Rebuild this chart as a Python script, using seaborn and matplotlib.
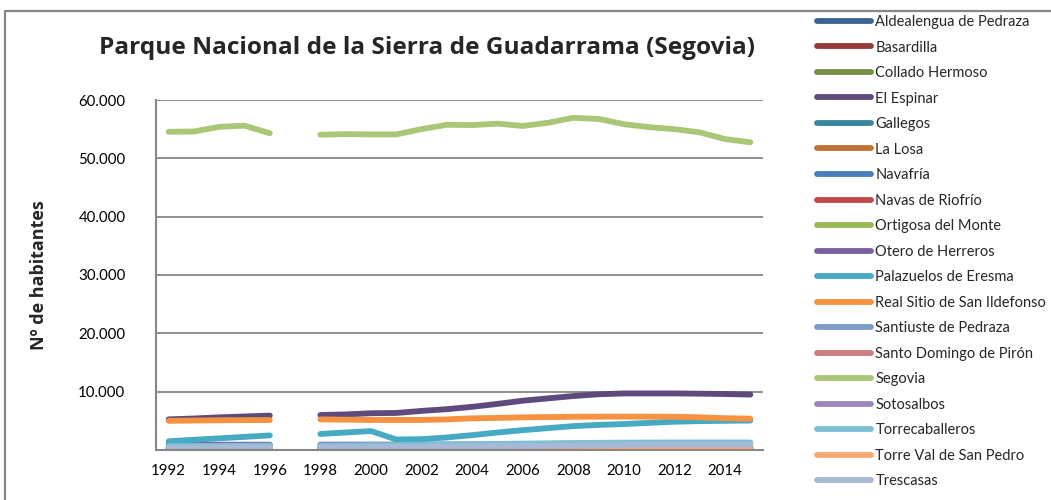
import numpy as np
import pandas as pd
import seaborn as sns
import matplotlib.pyplot as plt
from matplotlib.lines import Line2D

# Years on the category axis (1997 has no data)
years = list(range(1992, 2016))

# Population per municipality, 1992..2015 (None = 1997 missing)
aldealengua = [110, 108, 106, 104, 102, None, 99, 97, 96, 95, 94, 93, 92, 92, 93, 94, 95, 96, 95, 94, 93, 92, 90, 89]
basardilla = [140, 140, 138, 137, 135, None, 133, 132, 130, 131, 135, 140, 145, 150, 155, 160, 162, 165, 168, 170, 168, 165, 160, 158]
collado = [130, 128, 126, 125, 124, None, 122, 120, 120, 125, 130, 135, 140, 145, 150, 155, 158, 160, 160, 158, 156, 154, 150, 148]
el_espinar = [5250, 5400, 5600, 5750, 5900, None, 6000, 6100, 6300, 6350, 6700, 7000, 7400, 7900, 8450, 8850, 9250, 9550, 9700, 9700, 9700, 9650, 9600, 9500]
gallegos = [110, 108, 105, 103, 100, None, 98, 96, 95, 94, 92, 90, 90, 92, 95, 96, 98, 100, 102, 100, 98, 96, 94, 92]
la_losa = [380, 385, 390, 395, 400, None, 410, 415, 420, 430, 440, 455, 470, 485, 500, 510, 520, 525, 530, 530, 525, 520, 515, 510]
navafria = [350, 348, 345, 342, 340, None, 335, 332, 330, 330, 332, 335, 338, 340, 345, 350, 352, 355, 355, 352, 350, 345, 340, 335]
navas_riofrio = [220, 230, 240, 250, 260, None, 270, 280, 290, 300, 310, 325, 340, 355, 370, 385, 395, 405, 410, 410, 405, 400, 395, 390]
ortigosa = [350, 360, 370, 380, 390, None, 400, 410, 420, 430, 440, 450, 460, 480, 500, 520, 540, 555, 560, 560, 555, 550, 545, 540]
otero = [880, 890, 900, 905, 910, None, 915, 920, 925, 930, 935, 940, 945, 950, 955, 960, 965, 965, 960, 955, 950, 945, 940, 935]
palazuelos = [1500, 1750, 2000, 2250, 2500, None, 2750, 3000, 3250, 1800, 1850, 2150, 2550, 3000, 3400, 3750, 4100, 4300, 4450, 4650, 4850, 4950, 5000, 5050]
real_sitio = [5000, 5050, 5100, 5120, 5140, None, 5250, 5200, 5150, 5150, 5150, 5250, 5430, 5500, 5600, 5650, 5700, 5720, 5720, 5720, 5700, 5600, 5450, 5370]
santiuste = [90, 90, 88, 87, 86, None, 85, 84, 83, 82, 82, 81, 80, 80, 80, 80, 80, 80, 80, 80, 80, 79, 78, 78]
santo_domingo = [70, 70, 68, 66, 65, None, 64, 63, 62, 62, 62, 62, 62, 63, 64, 65, 66, 66, 66, 65, 64, 63, 62, 61]
segovia = [54550, 54600, 55400, 55600, 54300, None, 54050, 54150, 54100, 54100, 55000, 55750, 55700, 55950, 55550, 56100, 56950, 56750, 55850, 55350, 55000, 54450, 53300, 52750]
sotosalbos = [110, 110, 112, 114, 115, None, 118, 120, 122, 125, 128, 130, 133, 136, 140, 143, 146, 150, 152, 153, 152, 150, 148, 146]
torrecaballeros = [650, 680, 700, 720, 750, None, 780, 800, 830, 860, 900, 950, 1000, 1050, 1100, 1150, 1200, 1230, 1260, 1280, 1290, 1300, 1300, 1290]
torre_val = [150, 150, 148, 147, 145, None, 143, 142, 140, 145, 150, 160, 170, 180, 195, 210, 225, 240, 250, 260, 265, 270, 270, 268]
trescasas = [400, 410, 420, 430, 440, None, 460, 480, 500, 520, 550, 580, 620, 660, 700, 740, 780, 820, 860, 880, 900, 910, 910, 900]

names = ["Aldealengua de Pedraza", "Basardilla", "Collado Hermoso", "El Espinar",
         "Gallegos", "La Losa", "Navafría", "Navas de Riofrío", "Ortigosa del Monte",
         "Otero de Herreros", "Palazuelos de Eresma", "Real Sitio de San Ildefonso",
         "Santiuste de Pedraza", "Santo Domingo de Pirón", "Segovia", "Sotosalbos",
         "Torrecaballeros", "Torre Val de San Pedro", "Trescasas"]
series = [aldealengua, basardilla, collado, el_espinar, gallegos, la_losa, navafria,
          navas_riofrio, ortigosa, otero, palazuelos, real_sitio, santiuste,
          santo_domingo, segovia, sotosalbos, torrecaballeros, torre_val, trescasas]
colors = ["#3C6494", "#943C3A", "#768F44", "#5F4A7D", "#37869B", "#BF7334",
          "#4A7EBB", "#BE4B48", "#98B954", "#7D60A0", "#46AAC5", "#F69240",
          "#7D9BC9", "#CD7F7D", "#AAC778", "#9C88B8", "#7BC0D6", "#F9A970", "#A8B9D5"]

df = pd.DataFrame({"Año": years, **dict(zip(names, series))})
long = df.melt(id_vars="Año", var_name="Municipio", value_name="Habitantes")
long = long.dropna()
long["Habitantes"] = long["Habitantes"].astype(float)
# split at the missing year so the line breaks there
long["tramo"] = np.where(long["Año"] < 1997, 0, 1)

sns.set_style("white")
plt.rcParams["font.family"] = ["Lato", "DejaVu Sans"]
bold_font = ["Open Sans", "DejaVu Sans"]

fig = plt.figure(figsize=(10.51, 5), dpi=100)
ax = fig.add_axes([156 / 1051, 50 / 500, 607 / 1051, 350 / 500])

sns.lineplot(data=long, x="Año", y="Habitantes", hue="Municipio", units="tramo",
             estimator=None, hue_order=names, palette=dict(zip(names, colors)),
             lw=4.2, solid_capstyle="round", legend=False, ax=ax)

gray = "#878787"
ax.set_xlim(1991.5, 2015.5)
ax.set_ylim(0, 60000)
ax.set_xticks(range(1992, 2015, 2))
ax.set_yticks(range(10000, 60001, 10000))
ax.set_yticklabels([f"{v:,}".replace(",", ".") for v in range(10000, 60001, 10000)])
ax.tick_params(length=0, labelsize=10.8, labelcolor="black")
ax.tick_params(axis="y", pad=22)
ax.tick_params(axis="x", pad=10)
ax.grid(axis="y", color=gray, lw=1.3)
ax.set_axisbelow(True)
for s in ["top", "right"]:
    ax.spines[s].set_visible(False)
for s in ["left", "bottom"]:
    ax.spines[s].set_color(gray)
    ax.spines[s].set_linewidth(1.5)
ax.set_xlabel("")
ax.set_ylabel("Nº de habitantes", fontsize=13, fontweight="bold", family=bold_font)
ax.yaxis.set_label_coords(-0.178, 0.5)

fig.text(427 / 1051, 1 - 48 / 500, "Parque Nacional de la Sierra de Guadarrama (Segovia)",
         ha="center", va="center", fontsize=17.6, fontweight="bold", family=bold_font)

# chart frame (only top and left edges fall inside the picture)
fig.add_artist(Line2D([5 / 1051, 5 / 1051, 1.0], [0.0, 1 - 11 / 500, 1 - 11 / 500],
                      transform=fig.transFigure, color=gray, lw=1.6))

handles = [Line2D([0], [0], color=c, lw=4.2, solid_capstyle="round") for c in colors]
fig.legend(handles, names, loc="upper left", bbox_to_anchor=(817 / 1051, 1 - 15 / 500),
           bbox_transform=fig.transFigure, frameon=False, fontsize=10.5,
           handlelength=3.7, handletextpad=0.3, labelspacing=0.79,
           borderpad=0, borderaxespad=0)

fig.savefig("out.png", dpi=100)
